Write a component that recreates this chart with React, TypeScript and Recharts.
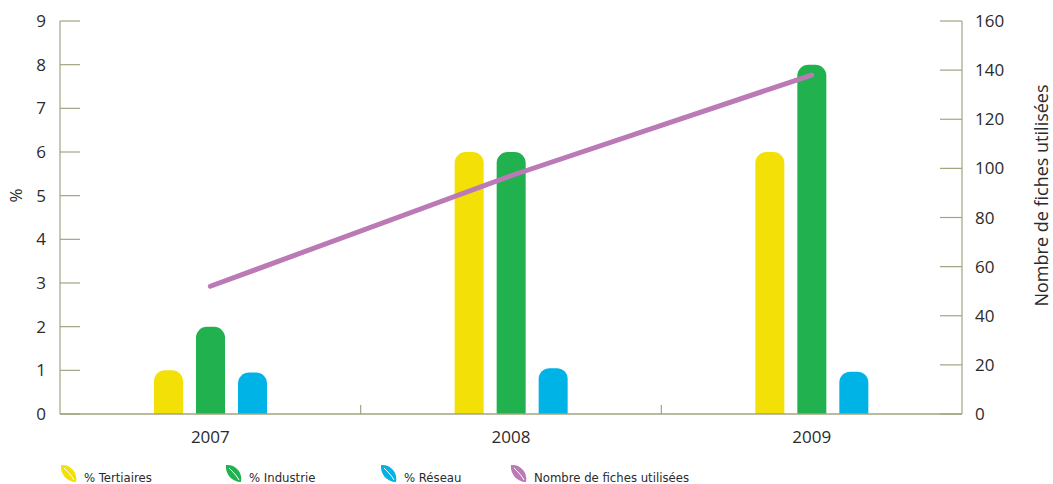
import React from 'react';
import { ComposedChart, Bar, Line, XAxis, YAxis, Legend } from 'recharts';

document.body.style.margin = '0';

const years = ['2007', '2008', '2009'];
const tertiaires = [1, 6, 6];
const industrie = [2, 6, 8];
const reseau = [0.95, 1.05, 0.97];
const fiches = [52, 97, 138];
const leftTicks = [0, 1, 2, 3, 4, 5, 6, 7, 8, 9];
const rightTicks = [0, 20, 40, 60, 80, 100, 120, 140, 160];
const legendOrder = ['% Tertiaires', '% Industrie', '% Réseau', 'Nombre de fiches utilisées'];

const data = years.map((year, i) => ({
    year,
    tertiaires: tertiaires[i],
    industrie: industrie[i],
    reseau: reseau[i],
    fiches: fiches[i],
}));

const W = 1053;
const H = 484;
const LEFT_W = 60;
const RIGHT_W = 91;
const PLOT_W = W - LEFT_W - RIGHT_W;
const STEP = PLOT_W / years.length;

const AXIS = '#a3a382';
const TEXT = '#2b2b2b';
const FONT = '"Open Sans", "Noto Sans", sans-serif';
const NARROW = '"Liberation Sans Narrow", "DejaVu Sans Condensed", sans-serif';

const YELLOW = '#f2e006';
const GREEN = '#21b24f';
const BLUE = '#00b3e6';
const PURPLE = '#bb7ab6';

const LeftTick = (props: any) => {
    const { x, y, payload } = props;
    return (
        <g>
            <line x1={x} y1={y} x2={x + 20} y2={y} stroke={AXIS} strokeWidth={1.2} />
            <text x={x - 14} y={y} dy={6} textAnchor="end" fill={TEXT} fontSize={17} fontFamily={FONT}>
                {payload.value}
            </text>
        </g>
    );
};

const RightTick = (props: any) => {
    const { x, y, payload } = props;
    return (
        <g>
            <line x1={x - 22} y1={y} x2={x} y2={y} stroke={AXIS} strokeWidth={1.2} />
            <text x={x + 13} y={y} dy={6} textAnchor="start" fill={TEXT} fontSize={17} fontFamily={FONT}>
                {payload.value}
            </text>
        </g>
    );
};

const BottomTick = (props: any) => {
    const { x, y, payload, index } = props;
    return (
        <g>
            {index < years.length - 1 && (
                <line x1={x + STEP / 2} y1={y - 9} x2={x + STEP / 2} y2={y} stroke={AXIS} strokeWidth={1.2} />
            )}
            <text x={x} y={y} dy={29} textAnchor="middle" fill={TEXT} fontSize={17} fontFamily={FONT}>
                {payload.value}
            </text>
        </g>
    );
};

const Leaf = ({ color }: { color: string }) => (
    <svg width={18} height={19} viewBox="0 0 18 19" style={{ marginRight: 6 }}>
        <path d="M1,1 C10,0 18,8 16,18 C7,18 0,10 1,1 Z" fill={color} />
        <path d="M4,4 C8,8 12,12 14,16" stroke="#fff" strokeWidth={1} fill="none" />
    </svg>
);

const legendWidths = [165, 155, 130, 200];

const LegendContent = (props: any) => {
    const items = [...props.payload].sort(
        (a: any, b: any) => legendOrder.indexOf(a.value) - legendOrder.indexOf(b.value)
    );
    return (
        <div style={{ display: 'flex', alignItems: 'center', paddingLeft: 60, paddingTop: 18 }}>
            {items.map((p: any, i: number) => (
                <div key={p.value} style={{ display: 'flex', alignItems: 'center', width: legendWidths[i] }}>
                    <Leaf color={p.color} />
                    <span style={{ fontFamily: NARROW, fontSize: 13, color: TEXT, marginTop: 8 }}>{p.value}</span>
                </div>
            ))}
        </div>
    );
};

const barRadius: [number, number, number, number] = [11, 11, 0, 0];

export default function App() {
    return (
        <ComposedChart
            width={W}
            height={H}
            data={data}
            margin={{ top: 21, right: 0, left: 0, bottom: 4 }}
            barSize={29}
            barGap={13}
        >
            <XAxis
                dataKey="year"
                stroke={AXIS}
                strokeWidth={1.5}
                tickLine={false}
                tickSize={0}
                tickMargin={0}
                height={30}
                tick={<BottomTick />}
            />
            <YAxis
                yAxisId="left"
                domain={[0, 9]}
                ticks={leftTicks}
                width={LEFT_W}
                stroke={AXIS}
                strokeWidth={1.2}
                tickLine={false}
                tickSize={0}
                tickMargin={0}
                interval={0}
                tick={<LeftTick />}
                label={({ viewBox }: any) => (
                    <text
                        transform={`translate(${viewBox.x + 22}, ${viewBox.y + viewBox.height / 2 - 22}) rotate(-90)`}
                        textAnchor="middle"
                        fill={TEXT}
                        fontSize={17}
                        fontFamily={FONT}
                    >
                        %
                    </text>
                )}
            />
            <YAxis
                yAxisId="right"
                orientation="right"
                domain={[0, 160]}
                ticks={rightTicks}
                width={RIGHT_W}
                stroke={AXIS}
                strokeWidth={1.2}
                tickLine={false}
                tickSize={0}
                tickMargin={0}
                interval={0}
                tick={<RightTick />}
                label={({ viewBox }: any) => (
                    <text
                        transform={`translate(${viewBox.x + 86}, ${viewBox.y + viewBox.height / 2 - 22}) rotate(-90)`}
                        textAnchor="middle"
                        fill={TEXT}
                        fontSize={18}
                        fontFamily={FONT}
                    >
                        Nombre de fiches utilisées
                    </text>
                )}
            />
            <Legend
                verticalAlign="bottom"
                height={36}
                wrapperStyle={{ left: 0, width: W }}
                content={<LegendContent />}
            />
            <Bar yAxisId="left" dataKey="tertiaires" name="% Tertiaires" fill={YELLOW} radius={barRadius} isAnimationActive={false} />
            <Bar yAxisId="left" dataKey="industrie" name="% Industrie" fill={GREEN} radius={barRadius} isAnimationActive={false} />
            <Bar yAxisId="left" dataKey="reseau" name="% Réseau" fill={BLUE} radius={barRadius} isAnimationActive={false} />
            <Line
                yAxisId="right"
                dataKey="fiches"
                name="Nombre de fiches utilisées"
                stroke={PURPLE}
                strokeWidth={5}
                strokeLinecap="round"
                dot={false}
                activeDot={false}
                type="linear"
                isAnimationActive={false}
            />
        </ComposedChart>
    );
}
